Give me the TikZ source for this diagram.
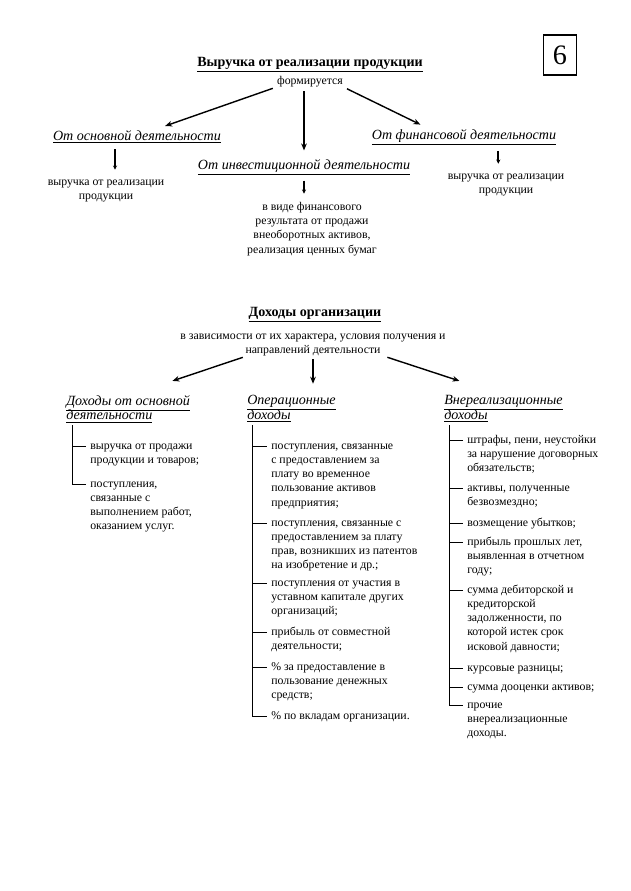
\documentclass[tikz,border=0pt]{standalone}
\usepackage{fontspec}
\setmainfont{Liberation Serif}
\usetikzlibrary{positioning, arrows.meta}

\newcommand\bodytext{\fontsize{8.4}{10.1}\selectfont}
\newcommand\headtext{\fontsize{10}{10.4}\selectfont\itshape\lineskiplimit=-6pt}
\newcommand\titletext{\fontsize{10}{12}\selectfont\bfseries}

\begin{document}
\begin{tikzpicture}[
    x=0.025cm, y=-0.025cm,
    font=\bodytext,
    >={Stealth[length=5pt, width=4pt]},
    every node/.style={inner sep=0pt},
    title/.style={font=\titletext},
    head/.style={font=\headtext, align=left},
    lead/.style={align=center},
    item/.style={anchor=north west, align=left},
    arr/.style={->, line width=1pt},
    sarr/.style={-{Stealth[length=3pt, width=3pt]}, line width=1.3pt},
    tick/.style={line width=0.6pt}
  ]
  \useasboundingbox (0,0) rectangle (630,891);

  \node[draw, line width=1pt, minimum width=0.83cm, minimum height=1cm,
        font=\fontsize{20}{20}\selectfont] (page) at (560,55) {6};

  % revenue from sales
  \node[title] (rev) at (310,65) {\underline{Выручка от реализации продукции}};
  \node[below=2pt of rev] (form) {формируется};

  \node[head] (osn) at (137,137) {\underline{От основной деятельности}};
  \node[head] (inv) at (304,167) {\underline{От инвестиционной деятельности}};
  \node[head] (fin) at (464,137) {\underline{От финансовой деятельности}};

  \node[lead] (rev1) at (106,191) {выручка от реализации\\продукции};
  \node[lead] (rev3) at (506,185) {выручка от реализации\\продукции};
  \node[lead] (res) at (312,229) {в виде финансового\\результата от продажи\\внеоборотных активов,\\реализация ценных бумаг};

  \draw[arr, shorten <=3pt] (form.south west) -- ([xshift=20pt, yshift=3pt]osn.north);
  \draw[arr, shorten <=3pt, shorten >=6pt] (inv.north |- form.south) -- (inv.north);
  \draw[arr, shorten <=3pt] (form.south east) -- ([xshift=-31pt, yshift=3pt]fin.north);

  \draw[sarr, shorten <=4pt, shorten >=7pt] ([xshift=6.4pt]rev1.north |- osn.south) -- ([xshift=6.4pt]rev1.north);
  \draw[sarr, shorten <=4pt, shorten >=6pt] (inv.south) -- (inv.south |- res.north);
  \draw[sarr, shorten <=4pt, shorten >=7pt] ([xshift=-5.5pt]rev3.north |- fin.south) -- ([xshift=-5.5pt]rev3.north);

  % income of the organisation
  \node[title] (inc) at (315,315) {\underline{Доходы организации}};
  \node[lead] (dep) at (313,345) {в зависимости от их характера, условия получения и\\направлений деятельности};

  \node[head, anchor=north west] (h1) at (66,395) {\underline{Доходы от основной}\\\underline{деятельности}};
  \node[head, anchor=north west] (h2) at (247,395) {\underline{Операционные}\\\underline{доходы}};
  \node[head, anchor=north west] (h3) at (444,395) {\underline{Внереализационные}\\\underline{доходы}};

  \draw[arr, shorten <=2pt] ([xshift=-48pt]dep.south) -- ([xshift=-12.7pt, yshift=10pt]h1.north east);
  \draw[arr, shorten <=2pt, shorten >=8pt] (dep.south) -- (dep.south |- h2.north);
  \draw[arr, shorten <=2pt] ([xshift=51pt]dep.south) -- ([xshift=11pt, yshift=10pt]h3.north west);

  \coordinate (v1) at (72,425);
  \coordinate (v2) at (252,425);
  \coordinate (v3) at (449,425);

  % main activity
  \node[item] (a1) at (90,439) {\strut выручка от продажи\\продукции и товаров;};
  \node[item] (a2) at (90,477) {\strut поступления,\\связанные с\\выполнением работ,\\оказанием услуг.};

  % operating
  \node[item] (b1) at (271,439) {\strut поступления, связанные\\с предоставлением за\\плату во временное\\пользование активов\\предприятия;};
  \node[item] (b2) at (271,516) {\strut поступления, связанные с\\предоставлением за плату\\прав, возникших из патентов\\на изобретение и др.;};
  \node[item] (b3) at (271,576) {\strut поступления от участия в\\уставном капитале других\\организаций;};
  \node[item] (b4) at (271,625) {\strut прибыль от совместной\\деятельности;};
  \node[item] (b5) at (271,660) {\strut \% за предоставление в\\пользование денежных\\средств;};
  \node[item] (b6) at (271,709) {\strut \% по вкладам организации.};

  % non-operating
  \node[item] (c1) at (467,433) {\strut штрафы, пени, неустойки\\за нарушение договорных\\обязательств;};
  \node[item] (c2) at (467,481) {\strut активы, полученные\\безвозмездно;};
  \node[item] (c3) at (467,516) {\strut возмещение убытков;};
  \node[item] (c4) at (467,535) {\strut прибыль прошлых лет,\\выявленная в отчетном\\году;};
  \node[item] (c5) at (467,583) {\strut сумма дебиторской и\\кредиторской\\задолженности, по\\которой истек срок\\исковой давности;};
  \node[item] (c6) at (467,661) {\strut курсовые разницы;};
  \node[item] (c7) at (467,680) {\strut сумма дооценки активов;};
  \node[item] (c8) at (467,698) {\strut прочие\\внереализационные\\доходы.};

  \foreach \n in {a1,a2}
    \draw[tick] (v1) |- ([xshift=-3pt, yshift=-5pt]\n.north west);
  \foreach \n in {b1,b2,b3,b4,b5,b6}
    \draw[tick] (v2) |- ([xshift=-3pt, yshift=-5pt]\n.north west);
  \foreach \n in {c1,c2,c3,c4,c5,c6,c7,c8}
    \draw[tick] (v3) |- ([xshift=-3pt, yshift=-5pt]\n.north west);
\end{tikzpicture}
\end{document}
